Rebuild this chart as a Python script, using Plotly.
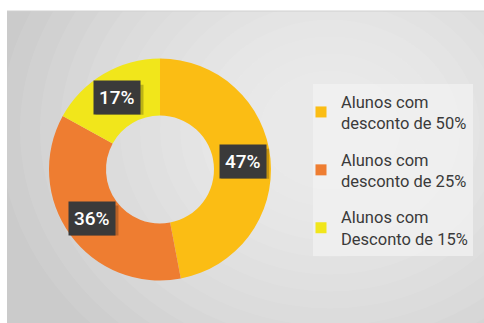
import math
import plotly.graph_objects as go

# Distribuição dos alunos por faixa de desconto
categorias = ["Alunos com<br>desconto de 50%", "Alunos com<br>desconto de 25%", "Alunos com<br>Desconto de 15%"]
percentuais = [47, 36, 17]
cores = ["#FBBD14", "#EE7D31", "#F1E61B"]

W, H = 484, 323
cx, cy, r_out, r_in = 160, 169.5, 111, 54  # donut geometry in pixels

def px_x(x):
    return x / W

def px_y(y):
    return 1 - y / H

fig = go.Figure()
fig.add_trace(go.Pie(
    labels=categorias,
    values=percentuais,
    marker=dict(colors=cores, line=dict(width=0)),
    hole=r_in / r_out,
    sort=False,
    direction="clockwise",
    rotation=0,
    textinfo="none",
    hoverinfo="skip",
    showlegend=False,
    domain=dict(x=[px_x(cx - r_out), px_x(cx + r_out)], y=[px_y(cy + r_out), px_y(cy - r_out)]),
))

# Legend entries, one group per category so the groups can be spaced apart
for i, (nome, cor) in enumerate(zip(categorias, cores)):
    fig.add_trace(go.Scatter(
        x=[None], y=[None], mode="markers", name=nome,
        marker=dict(symbol="square", size=11, color=cor),
        legendgroup=f"g{i}", hoverinfo="skip",
    ))

# Gray panel with a soft radial light
shapes = [dict(type="rect", xref="paper", yref="paper", x0=px_x(7), x1=1, y0=0, y1=px_y(11),
               fillcolor="#cbcbcb", line=dict(width=0), layer="below")]
gx, gy = 330, 130
for i in range(14):
    rr = 330 - i * 20
    shapes.append(dict(type="circle", xref="paper", yref="paper",
                       x0=px_x(gx - rr), x1=px_x(gx + rr), y0=px_y(gy + rr * 0.85), y1=px_y(gy - rr * 0.85),
                       fillcolor="white", opacity=0.075, line=dict(width=0), layer="below"))
# top edge of the panel
shapes.append(dict(type="line", xref="paper", yref="paper", x0=px_x(7), x1=1, y0=px_y(11), y1=px_y(11),
                   line=dict(color="#d0d0d0", width=1), layer="below"))
# legend box
shapes.append(dict(type="rect", xref="paper", yref="paper", x0=px_x(313), x1=px_x(473), y0=px_y(256), y1=px_y(84),
                   fillcolor="rgba(242,242,242,0.75)", line=dict(width=0), layer="below"))

# Percentage labels in dark boxes at the middle of each slice
annotations = []
total = sum(percentuais)
acum = 0
r_mid = (r_out + r_in) / 2 + 1
for v in percentuais:
    ang = 2 * math.pi * (acum + v / 2) / total
    acum += v
    x = cx + r_mid * math.sin(ang)
    y = cy - r_mid * math.cos(ang)
    # drop shadow under the label box
    shapes.append(dict(type="rect", xref="paper", yref="paper", layer="above",
                       x0=px_x(x - 22), x1=px_x(x + 26), y0=px_y(y + 17), y1=px_y(y - 13),
                       fillcolor="rgba(0,0,0,0.22)", line=dict(width=0)))
    annotations.append(dict(xref="paper", yref="paper", xanchor="center", yanchor="middle",
                            text=f"{v}%", showarrow=False, borderpad=5,
                            x=px_x(x), y=px_y(y), bgcolor="#3a3a3a",
                            font=dict(family="Roboto", size=19, color="white", weight=500)))

fig.update_layout(
    width=W, height=H,
    margin=dict(l=0, r=0, t=0, b=0),
    paper_bgcolor="white",
    plot_bgcolor="rgba(0,0,0,0)",
    xaxis=dict(visible=False),
    yaxis=dict(visible=False),
    shapes=shapes,
    annotations=annotations,
    showlegend=True,
    legend=dict(x=px_x(301), y=px_y(84), xanchor="left", yanchor="top",
                bgcolor="rgba(0,0,0,0)", borderwidth=0,
                font=dict(family="Roboto", size=16.5, color="#3a3a3a"),
                itemwidth=30, tracegroupgap=12, itemclick=False),
)

fig.write_html("out.html")
